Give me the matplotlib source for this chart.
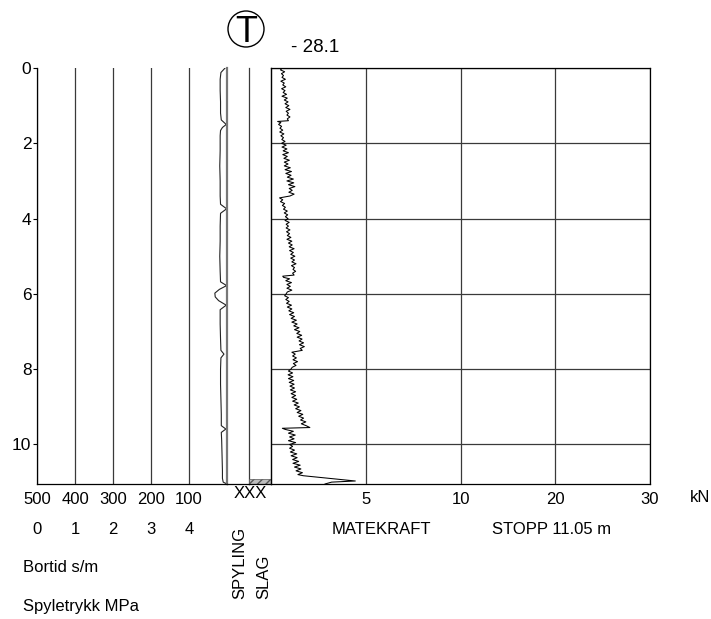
import numpy as np
import matplotlib
matplotlib.use('Agg')
import matplotlib.pyplot as plt
from matplotlib import font_manager
from matplotlib.patches import Ellipse

names = {f.name for f in font_manager.fontManager.ttflist}
FONT = 'Liberation Sans Narrow' if 'Liberation Sans Narrow' in names else 'Liberation Sans'
plt.rcParams['font.family'] = [FONT, 'DejaVu Sans']

# ---------------- data ----------------
depth_mk = [
    0.00, 0.05, 0.10, 0.15, 0.20, 0.25, 0.30, 0.35, 0.40, 0.45,
    0.50, 0.55, 0.60, 0.65, 0.70, 0.75, 0.80, 0.85, 0.90, 0.95,
    1.00, 1.05, 1.10, 1.15, 1.20, 1.25, 1.30, 1.35, 1.40, 1.42,
    1.45, 1.50, 1.55, 1.60, 1.65, 1.70, 1.75, 1.80, 1.85, 1.90,
    1.95, 2.00, 2.05, 2.10, 2.15, 2.20, 2.25, 2.30, 2.35, 2.40,
    2.45, 2.50, 2.55, 2.60, 2.65, 2.70, 2.75, 2.80, 2.85, 2.90,
    2.95, 3.00, 3.05, 3.10, 3.15, 3.20, 3.25, 3.30, 3.35, 3.40,
    3.45, 3.50, 3.55, 3.60, 3.65, 3.70, 3.75, 3.80, 3.85, 3.90,
    3.95, 4.00, 4.05, 4.10, 4.15, 4.20, 4.25, 4.30, 4.35, 4.40,
    4.45, 4.50, 4.55, 4.60, 4.65, 4.70, 4.75, 4.80, 4.85, 4.90,
    4.95, 5.00, 5.05, 5.10, 5.15, 5.20, 5.25, 5.30, 5.35, 5.40,
    5.45, 5.50, 5.53, 5.56, 5.60, 5.65, 5.70, 5.75, 5.80, 5.85,
    5.90, 5.95, 6.00, 6.05, 6.10, 6.15, 6.20, 6.25, 6.30, 6.35,
    6.40, 6.45, 6.50, 6.55, 6.60, 6.65, 6.70, 6.75, 6.80, 6.85,
    6.90, 6.95, 7.00, 7.05, 7.10, 7.15, 7.20, 7.25, 7.30, 7.35,
    7.40, 7.45, 7.50, 7.55, 7.60, 7.65, 7.70, 7.75, 7.80, 7.85,
    7.90, 7.95, 8.00, 8.05, 8.10, 8.15, 8.20, 8.25, 8.30, 8.35,
    8.40, 8.45, 8.50, 8.55, 8.60, 8.65, 8.70, 8.75, 8.80, 8.85,
    8.90, 8.95, 9.00, 9.05, 9.10, 9.15, 9.20, 9.25, 9.30, 9.35,
    9.40, 9.45, 9.50, 9.55, 9.57, 9.60, 9.65, 9.70, 9.75, 9.80,
    9.85, 9.90, 9.95, 10.00, 10.05, 10.10, 10.15, 10.20, 10.25, 10.30,
    10.35, 10.40, 10.45, 10.50, 10.55, 10.60, 10.65, 10.70, 10.75, 10.80,
    10.83, 10.97, 11.00, 11.05]
matekraft = [
    0.60, 0.50, 0.72, 0.55, 0.66, 0.58, 0.76, 0.52, 0.70, 0.62,
    0.78, 0.56, 0.74, 0.64, 0.82, 0.58, 0.86, 0.70, 0.90, 0.74,
    0.94, 0.78, 1.00, 0.80, 0.92, 0.84, 1.00, 0.86, 0.92, 0.35,
    0.52, 0.40, 0.56, 0.47, 0.62, 0.46, 0.68, 0.52, 0.66, 0.57,
    0.74, 0.56, 0.80, 0.58, 0.84, 0.64, 0.92, 0.62, 0.86, 0.68,
    0.97, 0.70, 0.90, 0.70, 1.02, 0.74, 1.08, 0.78, 1.06, 0.86,
    1.18, 0.84, 1.20, 0.92, 1.26, 0.96, 1.12, 0.94, 1.22, 1.00,
    0.45, 0.62, 0.50, 0.72, 0.60, 0.76, 0.66, 0.86, 0.70, 0.88,
    0.76, 0.90, 0.74, 0.96, 0.80, 0.92, 0.80, 1.00, 0.82, 0.98,
    0.86, 1.05, 0.84, 1.10, 0.92, 1.12, 0.96, 1.22, 0.98, 1.18,
    1.04, 1.26, 1.04, 1.24, 1.10, 1.32, 1.08, 1.24, 1.16, 1.30,
    1.14, 1.22, 0.62, 0.66, 0.98, 0.78, 1.08, 0.84, 1.02, 0.84,
    1.10, 0.86, 0.80, 0.72, 0.92, 0.78, 0.96, 0.82, 1.08, 0.86,
    1.10, 0.94, 1.20, 0.98, 1.24, 1.06, 1.34, 1.10, 1.38, 1.20,
    1.48, 1.24, 1.52, 1.36, 1.62, 1.38, 1.64, 1.48, 1.72, 1.50,
    1.76, 1.54, 1.65, 1.10, 1.28, 1.14, 1.34, 1.16, 1.40, 1.18,
    1.32, 1.12, 1.05, 0.92, 1.14, 0.90, 1.16, 0.92, 1.20, 0.96,
    1.22, 1.00, 1.24, 1.02, 1.30, 1.06, 1.30, 1.10, 1.36, 1.14,
    1.44, 1.22, 1.50, 1.30, 1.58, 1.38, 1.68, 1.46, 1.72, 1.56,
    1.84, 1.60, 1.85, 2.05, 0.60, 0.75, 1.18, 0.92, 1.28, 0.98,
    1.22, 0.92, 1.30, 0.98, 1.14, 0.98, 1.24, 1.02, 1.36, 1.06,
    1.38, 1.14, 1.46, 1.16, 1.54, 1.24, 1.58, 1.32, 1.66, 1.42,
    1.70, 4.45, 3.20, 2.85]

depth_bt = [0.00, 0.12, 0.30, 0.60, 0.90, 1.20, 1.38, 1.50, 1.58, 1.66,
            1.80, 2.20, 2.60, 3.00, 3.40, 3.62, 3.74, 3.86, 4.20, 4.60,
            5.00, 5.40, 5.68, 5.78, 5.88, 5.98, 6.08, 6.18, 6.30, 6.42,
            6.80, 7.20, 7.50, 7.60, 7.70, 8.00, 8.40, 8.80, 9.20, 9.50,
            9.59, 9.68, 9.90, 10.30, 10.70, 10.90, 11.00, 11.05]
bortid = [5, 16, 18, 18, 17, 17, 15, 2, 12, 17,
          18, 18, 19, 18, 18, 17, 1, 17, 18, 18,
          19, 18, 17, 1, 20, 32, 31, 22, 2, 18,
          18, 17, 16, 8, 16, 17, 17, 16, 15, 15,
          3, 15, 14, 13, 12, 12, 10, 0]

depth_ticks = [0, 2, 4, 6, 8, 10]
bortid_ticks = [500, 400, 300, 200, 100]
spyl_ticks = [0, 1, 2, 3, 4]
kn_ticks = [5, 10, 20, 30]
kn_breaks = [0, 5, 10, 20, 30]
slag_top, slag_bottom = 10.93, 11.05
stop_depth = 11.05
elev_label = '- 28.1'
marker_label = 'T'

# ---------------- layout ----------------
W, H = 711, 619
fig = plt.figure(figsize=(W / 100, H / 100), dpi=100)

def box(x0, x1, y0, y1):
    return [x0 / W, 1 - y1 / H, (x1 - x0) / W, (y1 - y0) / H]

LC = '#3a3a3a'
FS = 12

ax_b = fig.add_axes(box(37, 227, 68, 484))
ax_sp = fig.add_axes(box(227, 249, 68, 484), sharey=ax_b)
ax_sl = fig.add_axes(box(249, 271, 68, 484), sharey=ax_b)
ax_mk = fig.add_axes(box(271, 650, 68, 484), sharey=ax_b)
for ax in (ax_b, ax_sp, ax_sl, ax_mk):
    ax.patch.set_visible(False)

ax_b.set_ylim(stop_depth, 0)

# Bortid panel
ax_b.set_xlim(500, 0)
ax_b.set_xticks(bortid_ticks)
ax_b.set_yticks(depth_ticks)
ax_b.grid(axis='x', color=LC, lw=0.9)
ax_b.spines['top'].set_visible(False)
for s in ['left', 'bottom']:
    ax_b.spines[s].set_color('black')
    ax_b.spines[s].set_linewidth(0.9)
ax_b.spines['right'].set_color('#777777')
ax_b.spines['right'].set_linewidth(1.6)
ax_b.tick_params(axis='y', length=3, width=0.8, pad=1, labelsize=FS + 0.5)
ax_b.tick_params(axis='x', length=0, pad=6, labelsize=FS)
ax_b.plot(bortid, depth_bt, color='#222222', lw=0.8)

sec = ax_b.secondary_xaxis(-0.072, functions=(lambda b: (500 - np.asarray(b)) / 100,
                                              lambda s: 500 - 100 * np.asarray(s)))
sec.set_xticks(spyl_ticks)
sec.spines['bottom'].set_visible(False)
sec.tick_params(length=0, pad=6, labelsize=FS)

# Spyling / slag columns
for ax in (ax_sp, ax_sl):
    ax.set_xlim(0, 1)
    ax.set_xticks([])
    ax.spines['top'].set_visible(False)
    ax.spines['left'].set_visible(False)
    ax.spines['right'].set_color(LC)
    ax.spines['right'].set_linewidth(0.9)
    ax.spines['bottom'].set_linewidth(0.9)
    ax.tick_params(axis='y', left=False, labelleft=False)
ax_sl.fill_betweenx([slag_top, slag_bottom], 0, 1, facecolor='#bdbdbd',
                    edgecolor='#555555', hatch='////', lw=0.5)

# Matekraft panel
fwd = lambda x: np.interp(x, kn_breaks, np.arange(len(kn_breaks)))
inv = lambda p: np.interp(p, np.arange(len(kn_breaks)), kn_breaks)
ax_mk.set_xscale('function', functions=(fwd, inv))
ax_mk.set_xlim(0, 30)
ax_mk.set_xticks(kn_ticks)
ax_mk.set_xticklabels([str(v) for v in kn_ticks])
ax_mk.grid(True, color=LC, lw=0.9)
ax_mk.tick_params(axis='x', length=0, pad=6, labelsize=FS)
ax_mk.tick_params(axis='y', left=False, labelleft=False)
for s in ax_mk.spines.values():
    s.set_linewidth(0.9)
ax_mk.plot(matekraft, depth_mk, color='black', lw=0.75)

# ---------------- texts ----------------
fig.text(710 / W, 1 - 498 / H, 'kN', ha='right', va='center', fontsize=FS)
fig.text(250 / W, 1 - 494 / H, 'XXX', ha='center', va='center', fontsize=FS)
fig.text(381 / W, 1 - 529 / H, 'MATEKRAFT', ha='center', va='center', fontsize=FS)
fig.text(552 / W, 1 - 529 / H, f'STOPP {stop_depth:.2f} m', ha='center', va='center', fontsize=FS)
fig.text(23 / W, 1 - 567 / H, 'Bortid s/m', ha='left', va='center', fontsize=FS)
fig.text(23 / W, 1 - 606 / H, 'Spyletrykk MPa', ha='left', va='center', fontsize=FS)
fig.text(240 / W, 1 - 599 / H, 'SPYLING', rotation=90, ha='center', va='bottom', fontsize=FS)
fig.text(264 / W, 1 - 599 / H, 'SLAG', rotation=90, ha='center', va='bottom', fontsize=FS)

fig.add_artist(Ellipse((246 / W, 1 - 29 / H), 36 / W, 36 / H, transform=fig.transFigure,
                       fill=False, lw=1.0, ec='black'))
fig.text(246 / W, 1 - 42 / H, marker_label, ha='center', va='baseline', fontsize=26)
fig.text(315 / W, 1 - 47 / H, elev_label, ha='center', va='center', fontsize=13.5)

fig.savefig('out.png', dpi=100)
